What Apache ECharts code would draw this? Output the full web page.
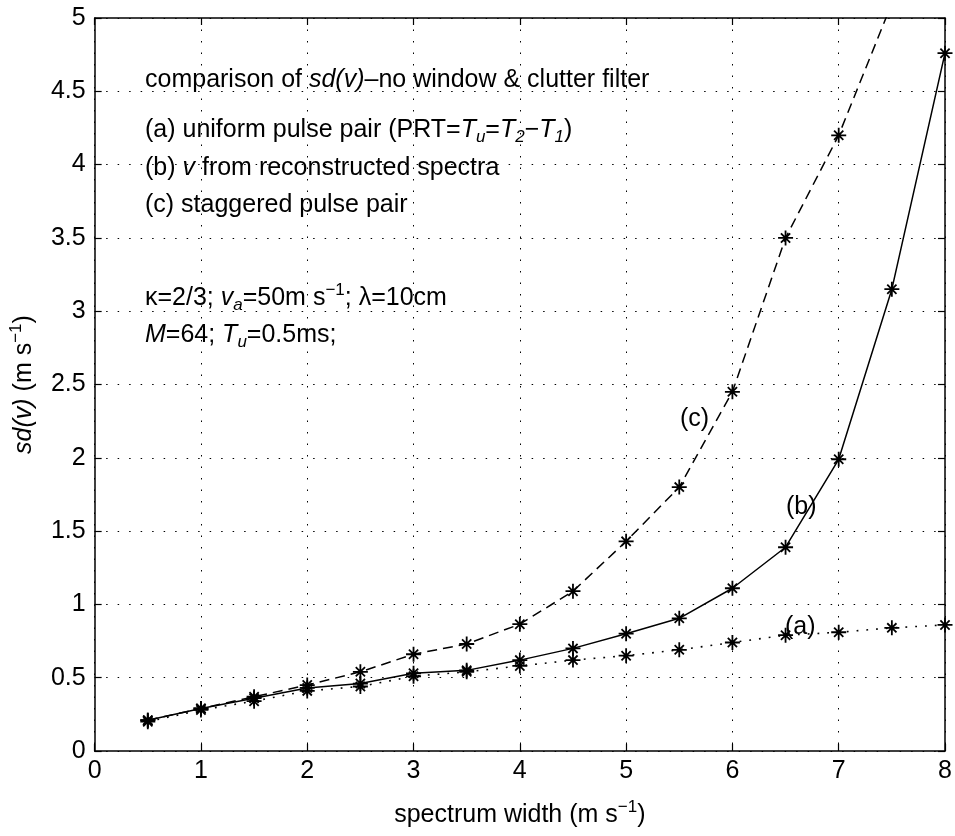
<!DOCTYPE html>
<html>
<head>
<meta charset="utf-8">
<script src="https://cdn.jsdelivr.net/npm/echarts@6/dist/echarts.min.js"></script>
<style>
html,body{margin:0;padding:0;background:#fff;}
#chart{width:955px;height:836px;}
</style>
</head>
<body>
<div id="chart"></div>
<script>
// spectrum width values (m s^-1)
const widths = [0.5, 1, 1.5, 2, 2.5, 3, 3.5, 4, 4.5, 5, 5.5, 6, 6.5, 7, 7.5, 8];
// (a) uniform pulse pair
const seriesA = [0.20, 0.28, 0.34, 0.41, 0.44, 0.51, 0.54, 0.58, 0.62, 0.65, 0.69, 0.74, 0.79, 0.81, 0.84, 0.86];
// (b) v from reconstructed spectra
const seriesB = [0.21, 0.29, 0.36, 0.43, 0.46, 0.53, 0.55, 0.62, 0.70, 0.80, 0.905, 1.11, 1.39, 1.99, 3.15, 4.76];
// (c) staggered pulse pair
const seriesC = [0.21, 0.29, 0.37, 0.45, 0.54, 0.66, 0.73, 0.865, 1.09, 1.43, 1.80, 2.45, 3.50, 4.20, 5.10, null];

const xTicks = [0, 1, 2, 3, 4, 5, 6, 7, 8];
const yTicks = [0, 0.5, 1, 1.5, 2, 2.5, 3, 3.5, 4, 4.5, 5];

const FONT = 'Liberation Sans, Arial, Helvetica, sans-serif';
const FS = 25;

const star = 'path://M8.8,0 L11.2,0 L11.2,20 L8.8,20 Z M0,8.8 L20,8.8 L20,11.2 L0,11.2 Z M3,4.7 L4.7,3 L17,15.3 L15.3,17 Z M15.3,3 L17,4.7 L4.7,17 L3,15.3 Z';

const pair = arr => widths.map((w, i) => [w, arr[i]]);

const chart = echarts.init(document.getElementById('chart'), null, {renderer: 'canvas'});

const richStyles = {
  i: {fontStyle: 'italic', fontSize: FS, fontFamily: FONT, color: '#000', lineHeight: 32},
  sub: {fontStyle: 'italic', fontSize: 17, fontFamily: FONT, color: '#000', lineHeight: 17, verticalAlign: 'bottom'},
  sup: {fontSize: 17, fontFamily: FONT, color: '#000', lineHeight: 17, verticalAlign: 'top'}
};

function txt(x, y, text) {
  return {
    type: 'text', left: x, top: y,
    style: {
      text: text, fill: '#000', font: FS + 'px ' + FONT,
      lineHeight: 32, rich: richStyles
    }
  };
}

const baseAxis = {
  axisLine: {show: true, onZero: false, lineStyle: {color: '#000', width: 1.5}},
  axisTick: {show: true, inside: true, length: 7, lineStyle: {color: '#000', width: 1.2}},
};

const option = {
  animation: false,
  backgroundColor: '#fff',
  grid: {left: 91, right: 10, top: 18, bottom: 78, containLabel: false},
  xAxis: [
    Object.assign({}, baseAxis, {
      type: 'value', min: 0, max: 8, interval: 1, position: 'bottom',
      axisLabel: {color: '#000', fontSize: FS, fontFamily: FONT, margin: 8},
      splitLine: {show: true, lineStyle: {color: '#000', width: 1, type: [1.5, 10]}},
      name: 'spectrum width (m s{sup|−1})',
      nameLocation: 'middle', nameGap: 48,
      nameTextStyle: {color: '#000', fontSize: FS, fontFamily: FONT, lineHeight: 32, rich: richStyles}
    }),
    Object.assign({}, baseAxis, {
      type: 'value', min: 0, max: 8, interval: 1, position: 'top',
      axisLabel: {show: false}, splitLine: {show: false}
    })
  ],
  yAxis: [
    Object.assign({}, baseAxis, {
      type: 'value', min: 0, max: 5, interval: 0.5, position: 'left',
      axisLabel: {color: '#000', fontSize: FS, fontFamily: FONT, margin: 9},
      splitLine: {show: true, lineStyle: {color: '#000', width: 1, type: [1.5, 10]}},
      name: '{i|sd(v)} (m s{sup|−1})',
      nameLocation: 'middle', nameGap: 46, nameRotate: 90,
      nameTextStyle: {color: '#000', fontSize: FS, fontFamily: FONT, lineHeight: 32, rich: richStyles}
    }),
    Object.assign({}, baseAxis, {
      type: 'value', min: 0, max: 5, interval: 0.5, position: 'right',
      axisLabel: {show: false}, splitLine: {show: false}
    })
  ],
  series: [
    {
      name: '(a)', type: 'line', data: pair(seriesA), xAxisIndex: 0, yAxisIndex: 0,
      symbol: star, symbolSize: 15, showAllSymbol: true,
      lineStyle: {color: '#000', width: 1.6, type: [1.8, 8]},
      itemStyle: {color: '#000'}, clip: true
    },
    {
      name: '(b)', type: 'line', data: pair(seriesB), xAxisIndex: 0, yAxisIndex: 0,
      symbol: star, symbolSize: 15, showAllSymbol: true,
      lineStyle: {color: '#000', width: 1.5, type: 'solid'},
      itemStyle: {color: '#000'}, clip: true
    },
    {
      name: '(c)', type: 'line', data: pair(seriesC), xAxisIndex: 0, yAxisIndex: 0,
      symbol: star, symbolSize: 15, showAllSymbol: true, connectNulls: false,
      lineStyle: {color: '#000', width: 1.5, type: [10, 6]},
      itemStyle: {color: '#000'}, clip: true
    }
  ],
  graphic: [
    txt(145, 64, 'comparison of {i|sd(v)}–no window & clutter filter'),
    txt(145, 114, '(a) uniform pulse pair (PRT={i|T}{sub|u}={i|T}{sub|2}−{i|T}{sub|1})'),
    txt(145, 152, '(b) {i|v} from reconstructed spectra'),
    txt(145, 189, '(c) staggered pulse pair'),
    txt(145, 282, 'κ=2/3; {i|v}{sub|a}=50m s{sup|−1}; λ=10cm'),
    txt(145, 319, '{i|M}=64; {i|T}{sub|u}=0.5ms;'),
    txt(680, 403, '(c)'),
    txt(786, 491, '(b)'),
    txt(785, 611, '(a)')
  ]
};

chart.setOption(option);
</script>
</body>
</html>
